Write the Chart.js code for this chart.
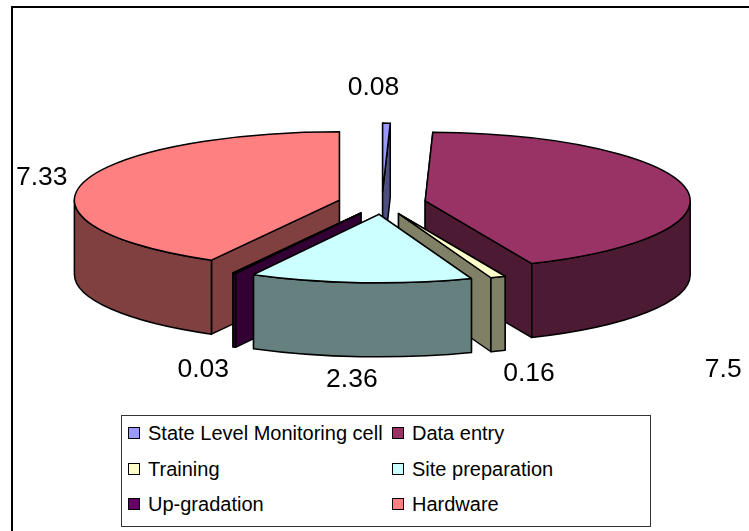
<!DOCTYPE html>
<html lang="en">
<head>
<meta charset="utf-8">
<title>Cost split</title>
<script src="https://cdn.jsdelivr.net/npm/chart.js@4"></script>
<style>
	html, body { margin: 0; padding: 0; background: #fff; }
	#wrap { position: relative; width: 749px; height: 531px; overflow: hidden; font-family: "Liberation Sans", Arial, sans-serif; }
	#frame { position: absolute; left: 11px; top: 6px; width: 800px; height: 600px; border: 2px solid #000; }
	#legend { position: absolute; left: 121px; top: 415px; width: 528px; height: 110px; border: 1px solid #333; background: #fff; }
	.item { position: absolute; font-size: 20px; line-height: 24px; white-space: nowrap; color: #000; }
	.item i { position: absolute; left: -20px; top: 6px; width: 10px; height: 10px; border: 1.5px solid #000; }
</style>
</head>
<body>
<div id="wrap">
	<div id="frame"></div>
	<canvas id="pie" width="749" height="531" style="position:absolute;left:0;top:0"></canvas>
	<div id="legend"></div>
</div>
<script>
var categories = ["State Level Monitoring cell", "Data entry", "Training", "Site preparation", "Up-gradation", "Hardware"];
var values = [0.08, 7.5, 0.16, 2.36, 0.03, 7.33];
var topColors = ["#9999FF", "#993366", "#FFFFCC", "#CCFFFF", "#660066", "#FF8080"];
var wallColors = ["#4D4D80", "#4D1A33", "#808066", "#668080", "#330033", "#804040"];

// where each value label sits, relative to the outer middle of its slice
var labelNudge = [[-13, -35], [38, 182], [31, 97], [-9, 97], [-31, 97], [-41, -5]];

var squash = 0.2585;
var depth = 74;
var explode = 44;

// chart.js has no 3d pie: the flat pie gets squashed, the walls are added underneath
var pie3d = {
	id: "pie3d",
	beforeDatasetsDraw: function(chart) {
		var ctx = chart.ctx;
		var area = chart.chartArea;
		var cx = (area.left + area.right) / 2;
		var cy = (area.top + area.bottom) / 2;
		var arcs = chart.getDatasetMeta(0).data;

		arcs.forEach(function(arc) {
			var mid = (arc.startAngle + arc.endAngle) / 2;
			arc.x = cx + Math.cos(mid) * explode;
			arc.y = cy + Math.sin(mid) * explode;
		});

		function sy(y) {
			return cy + (y - cy) * squash;
		}

		ctx.save();
		ctx.strokeStyle = "#000";
		ctx.lineWidth = 1.5;
		ctx.lineJoin = "round";
		var order = arcs.map(function(a, i) { return i; }).sort(function(a, b) { return arcs[a].y - arcs[b].y; });
		order.forEach(function(i) {
			var arc = arcs[i];
			var r = arc.outerRadius;
			var tipY = sy(arc.y);
			ctx.fillStyle = wallColors[i];

			// the two cut faces, the one further back first
			[arc.startAngle, arc.endAngle].sort(function(a, b) { return Math.sin(a) - Math.sin(b); }).forEach(function(e) {
				var ox = arc.x + Math.cos(e) * r;
				var oy = tipY + Math.sin(e) * r * squash;
				ctx.beginPath();
				ctx.moveTo(arc.x, tipY);
				ctx.lineTo(ox, oy);
				ctx.lineTo(ox, oy + depth);
				ctx.lineTo(arc.x, tipY + depth);
				ctx.closePath();
				ctx.fill();
				ctx.stroke();
			});

			// outer wall, only the part that faces the viewer
			var lo = Math.max(arc.startAngle, 0);
			var hi = Math.min(arc.endAngle, Math.PI);
			if (lo < hi) {
				ctx.beginPath();
				ctx.ellipse(arc.x, tipY, r, r * squash, 0, lo, hi);
				ctx.ellipse(arc.x, tipY + depth, r, r * squash, 0, hi, lo, true);
				ctx.closePath();
				ctx.fill();
				ctx.stroke();
			}
		});
		ctx.restore();

		ctx.save();
		ctx.translate(0, cy);
		ctx.scale(1, squash);
		ctx.translate(0, -cy);
	},
	afterDatasetsDraw: function(chart) {
		var ctx = chart.ctx;
		ctx.restore();

		var area = chart.chartArea;
		var cy = (area.top + area.bottom) / 2;
		var arcs = chart.getDatasetMeta(0).data;

		ctx.save();
		ctx.strokeStyle = "#000";
		ctx.lineWidth = 1.5;
		ctx.lineJoin = "round";
		ctx.font = '26.5px "Liberation Sans", Arial, sans-serif';
		ctx.textAlign = "center";
		ctx.textBaseline = "middle";
		ctx.fillStyle = "#000";
		arcs.forEach(function(arc, i) {
			var r = arc.outerRadius;
			var tipY = cy + (arc.y - cy) * squash;
			ctx.beginPath();
			ctx.moveTo(arc.x, tipY);
			ctx.ellipse(arc.x, tipY, r, r * squash, 0, arc.startAngle, arc.endAngle);
			ctx.closePath();
			ctx.stroke();

			var mid = (arc.startAngle + arc.endAngle) / 2;
			ctx.fillText(String(values[i]),
				arc.x + Math.cos(mid) * r + labelNudge[i][0],
				tipY + Math.sin(mid) * r * squash + labelNudge[i][1]);
		});
		ctx.restore();
	}
};

new Chart(document.getElementById("pie"), {
	type: "pie",
	data: {
		labels: categories,
		datasets: [{
			data: values,
			backgroundColor: topColors,
			borderWidth: 0,
			clip: false
		}]
	},
	options: {
		responsive: false,
		animation: false,
		radius: 265,
		layout: { padding: { left: 15, right: 0, top: 0, bottom: 125 } },
		plugins: { legend: { display: false }, tooltip: { enabled: false } }
	},
	plugins: [pie3d]
});

// two column legend, filled row by row
var legend = document.getElementById("legend");
categories.forEach(function(name, i) {
	var item = document.createElement("div");
	item.className = "item";
	item.style.left = (i % 2 ? 290 : 26) + "px";
	item.style.top = (5 + Math.floor(i / 2) * 35.5) + "px";
	var box = document.createElement("i");
	box.style.background = topColors[i];
	item.appendChild(box);
	item.appendChild(document.createTextNode(name));
	legend.appendChild(item);
});
</script>
</body>
</html>
